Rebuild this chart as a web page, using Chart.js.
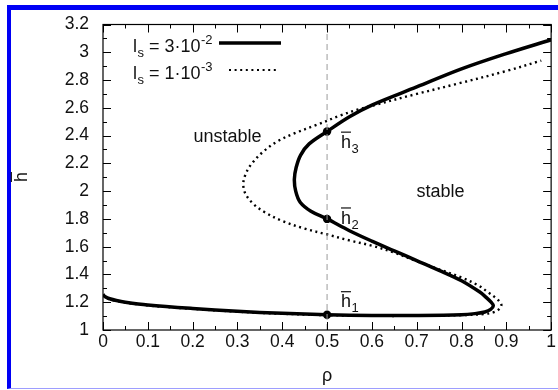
<!DOCTYPE html>
<html>
<head>
<meta charset="utf-8">
<script src="https://cdn.jsdelivr.net/npm/chart.js@4/dist/chart.umd.min.js"></script>
<style>
  html, body { margin: 0; padding: 0; background: #fff; overflow: hidden; }
  #frame { position: absolute; left: 7px; top: 5px; width: 620px; height: 384px; box-sizing: border-box;
           border-left: 4px solid #0000f5; border-top: 5px solid #0000f5; border-bottom: 1px solid #9d9dff; }
  #c { position: absolute; left: 0; top: 0; }
</style>
</head>
<body>
<div id="frame"></div>
<canvas id="c" width="558" height="390"></canvas>
<script>
// ---- data ----
// l_s = 3·10^-2 (solid curve), traced along the S-shaped branch
const solidRho = [0, 0.005, 0.015, 0.03, 0.05, 0.1, 0.2, 0.3, 0.4, 0.5, 0.6, 0.7, 0.8, 0.83, 0.852, 0.865, 0.871, 0.866, 0.855, 0.84, 0.8, 0.75, 0.7, 0.65, 0.6, 0.55, 0.5, 0.464, 0.44, 0.43, 0.427, 0.431, 0.441, 0.46, 0.5, 0.55, 0.6, 0.7, 0.8, 0.9, 1.0];
const solidH   = [1.255, 1.24, 1.225, 1.212, 1.2, 1.18, 1.155, 1.135, 1.12, 1.11, 1.105, 1.105, 1.11, 1.118, 1.13, 1.148, 1.175, 1.2, 1.235, 1.275, 1.355, 1.43, 1.50, 1.57, 1.64, 1.715, 1.80, 1.855, 1.92, 2.0, 2.085, 2.17, 2.26, 2.34, 2.43, 2.536, 2.62, 2.75, 2.88, 2.99, 3.09];
// l_s = 1·10^-3 (dotted curve)
const dottedRho = [0, 0.005, 0.015, 0.03, 0.05, 0.1, 0.2, 0.3, 0.4, 0.5, 0.6, 0.7, 0.8, 0.85, 0.872, 0.884, 0.889, 0.885, 0.875, 0.86, 0.838, 0.8, 0.75, 0.7, 0.65, 0.6, 0.55, 0.5, 0.45, 0.4, 0.36, 0.335, 0.318, 0.313, 0.318, 0.33, 0.356, 0.39, 0.43, 0.475, 0.53, 0.571, 0.6, 0.7, 0.793, 0.9, 0.978];
const dottedH   = [1.252, 1.237, 1.222, 1.209, 1.197, 1.177, 1.152, 1.132, 1.117, 1.107, 1.102, 1.102, 1.107, 1.115, 1.128, 1.15, 1.18, 1.205, 1.235, 1.27, 1.32, 1.378, 1.437, 1.495, 1.557, 1.607, 1.645, 1.688, 1.73, 1.785, 1.85, 1.91, 1.98, 2.05, 2.12, 2.19, 2.28, 2.36, 2.42, 2.475, 2.545, 2.59, 2.615, 2.70, 2.775, 2.865, 2.94];
// equilibrium points at rho = 0.5
const pointRho = [0.5, 0.5, 0.5];
const pointH   = [1.11, 1.80, 2.43];
const pointNames = ['1', '2', '3'];
// vertical reference line
const refRho = [0.5, 0.5];
const refH   = [1.0, 3.2];
// axis ranges / tick steps
const xRange = [0, 1];
const yRange = [1, 3.2];
const xStep = 0.1;
const yStep = 0.2;
const legendLabels = [{ base: '3·10', exp: '-2' }, { base: '1·10', exp: '-3' }];

const toPts = (xs, ys) => xs.map((x, i) => ({ x: x, y: ys[i] }));
const FONT = '"Liberation Sans", Arial, Helvetica, sans-serif';
Chart.defaults.font.family = FONT;
Chart.defaults.color = '#111';

function drawHbar(ctx, x, y, sub, size) {
  ctx.save();
  ctx.font = size + 'px ' + FONT;
  ctx.textAlign = 'left';
  ctx.textBaseline = 'alphabetic';
  const w = ctx.measureText('h').width;
  ctx.fillText('h', x, y);
  ctx.strokeStyle = '#111';
  ctx.lineWidth = 1.2;
  ctx.beginPath();
  ctx.moveTo(x, y - size * 0.87);
  ctx.lineTo(x + w, y - size * 0.87);
  ctx.stroke();
  if (sub) {
    ctx.font = Math.round(size * 0.72) + 'px ' + FONT;
    ctx.fillText(sub, x + w + 0.5, y + size * 0.28);
  }
  ctx.restore();
}

const decor = {
  id: 'decor',
  afterDraw(chart) {
    const ctx = chart.ctx;
    const a = chart.chartArea;
    const xs = chart.scales.x, ys = chart.scales.y;
    ctx.save();
    // frame
    ctx.strokeStyle = '#000';
    ctx.lineWidth = 1.2;
    ctx.strokeRect(a.left, a.top, a.right - a.left, a.bottom - a.top);
    // inward ticks (major + minor) on all four sides
    ctx.lineWidth = 1;
    ctx.beginPath();
    const xt = xs.ticks.map(t => t.value);
    xt.forEach((v, i) => {
      const px = Math.round(xs.getPixelForValue(v)) + 0.5;
      ctx.moveTo(px, a.bottom); ctx.lineTo(px, a.bottom - 8);
      ctx.moveTo(px, a.top); ctx.lineTo(px, a.top + 8);
      if (i < xt.length - 1) {
        const pm = Math.round(xs.getPixelForValue((v + xt[i + 1]) / 2)) + 0.5;
        ctx.moveTo(pm, a.bottom); ctx.lineTo(pm, a.bottom - 4);
        ctx.moveTo(pm, a.top); ctx.lineTo(pm, a.top + 4);
      }
    });
    const yt = ys.ticks.map(t => t.value);
    yt.forEach((v, i) => {
      const py = Math.round(ys.getPixelForValue(v)) + 0.5;
      ctx.moveTo(a.left, py); ctx.lineTo(a.left + 8, py);
      ctx.moveTo(a.right, py); ctx.lineTo(a.right - 8, py);
      if (i < yt.length - 1) {
        const pm = Math.round(ys.getPixelForValue((v + yt[i + 1]) / 2)) + 0.5;
        ctx.moveTo(a.left, pm); ctx.lineTo(a.left + 4, pm);
        ctx.moveTo(a.right, pm); ctx.lineTo(a.right - 4, pm);
      }
    });
    ctx.stroke();

    // region labels
    ctx.fillStyle = '#111';
    ctx.font = '18px ' + FONT;
    ctx.textAlign = 'center';
    ctx.textBaseline = 'middle';
    ctx.fillText('unstable', xs.getPixelForValue(0.278), ys.getPixelForValue(2.39));
    ctx.fillText('stable', xs.getPixelForValue(0.753), ys.getPixelForValue(1.993));

    // equilibrium labels
    const lblH = [1.163, 1.766, 2.312];
    pointNames.forEach((n, i) => {
      drawHbar(ctx, xs.getPixelForValue(0.531), ys.getPixelForValue(lblH[i]), n, 18);
    });

    // legend
    const lx = 133, rows = [52, 79], lineY = [43, 70];
    legendLabels.forEach((L, i) => {
      let x = lx;
      const y = rows[i];
      ctx.textAlign = 'left';
      ctx.textBaseline = 'alphabetic';
      ctx.font = '18px ' + FONT;
      ctx.fillText('l', x, y); x += ctx.measureText('l').width + 0.5;
      ctx.font = '13px ' + FONT;
      ctx.fillText('s', x, y + 5); x += ctx.measureText('s').width;
      ctx.font = '18px ' + FONT;
      const s = ' = ' + L.base;
      ctx.fillText(s, x, y); x += ctx.measureText(s).width + 0.5;
      ctx.font = '13px ' + FONT;
      ctx.fillText(L.exp, x, y - 8);
      // sample line
      ctx.strokeStyle = '#000';
      ctx.beginPath();
      if (i === 0) { ctx.lineWidth = 3.5; ctx.setLineDash([]); ctx.moveTo(219, lineY[i]); ctx.lineTo(281, lineY[i]); }
      else { ctx.lineWidth = 2.2; ctx.setLineDash([2, 3.6]); ctx.moveTo(229, lineY[i]); ctx.lineTo(279, lineY[i]); }
      ctx.stroke();
      ctx.setLineDash([]);
    });

    // axis titles
    ctx.font = '18px ' + FONT;
    ctx.textAlign = 'center';
    ctx.textBaseline = 'middle';
    ctx.fillText('ρ', xs.getPixelForValue(0.5), 376);
    ctx.save();
    ctx.translate(27, 177);
    ctx.rotate(-Math.PI / 2);
    drawHbar(ctx, -5, 0, '', 18);
    ctx.restore();
    ctx.restore();
  }
};

new Chart(document.getElementById('c'), {
  type: 'scatter',
  data: {
    datasets: [
      { label: 'ref', data: toPts(refRho, refH), showLine: true, borderColor: '#9a9a9a', borderWidth: 1,
        borderDash: [6, 4], pointRadius: 0 },
      { label: 'l_s = 1·10^-3', data: toPts(dottedRho, dottedH), showLine: true, borderColor: '#000',
        borderWidth: 2.4, borderDash: [2, 3.6], pointRadius: 0, tension: 0.35 },
      { label: 'l_s = 3·10^-2', data: toPts(solidRho, solidH), showLine: true, borderColor: '#000',
        borderWidth: 3.5, pointRadius: 0, tension: 0.35 },
      { label: 'points', data: toPts(pointRho, pointH), showLine: false, pointRadius: 4.2,
        pointBackgroundColor: '#000', pointBorderColor: '#000', pointBorderWidth: 0 }
    ]
  },
  options: {
    responsive: false,
    animation: false,
    devicePixelRatio: 1,
    layout: { padding: { left: 0, right: 5, top: 20, bottom: 0 } },
    plugins: { legend: { display: false }, tooltip: { enabled: false } },
    scales: {
      x: {
        type: 'linear', min: xRange[0], max: xRange[1],
        grid: { display: false, drawTicks: false },
        border: { display: false },
        ticks: { stepSize: xStep, padding: 2, autoSkip: false, maxRotation: 0,
                 font: { size: 17.5 }, color: '#111',
                 callback: v => String(+v.toFixed(1)) },
        afterFit: s => { s.height = 60; }
      },
      y: {
        type: 'linear', min: yRange[0], max: yRange[1],
        grid: { display: false, drawTicks: false },
        border: { display: false },
        ticks: { stepSize: yStep, padding: 14, autoSkip: false,
                 font: { size: 17.5 }, color: '#111',
                 callback: v => String(+v.toFixed(1)) },
        afterFit: s => { s.width = 103; }
      }
    }
  },
  plugins: [decor]
});
</script>
</body>
</html>
